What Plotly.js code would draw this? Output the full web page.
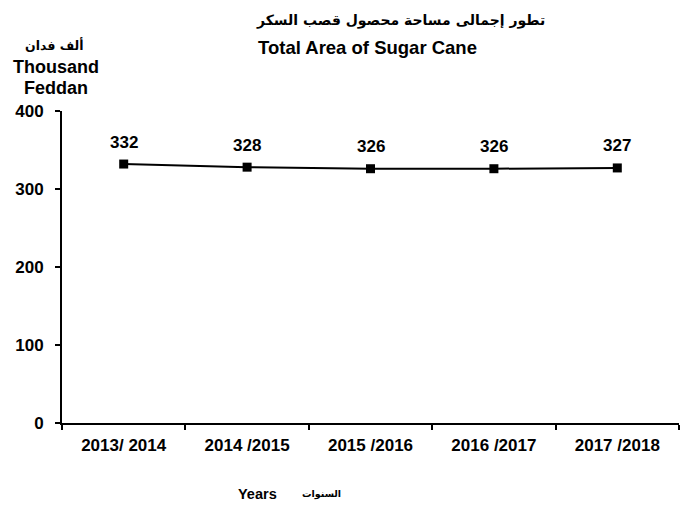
<!DOCTYPE html>
<html><head><meta charset="utf-8">
<script src="https://cdn.plot.ly/plotly-3.0.1.min.js"></script>
<style>body{margin:0;background:#fff}#c{width:692px;height:506px}</style>
</head><body><div id="c"></div>
<script>
const years = ["2013/ 2014", "2014 /2015", "2015 /2016", "2016 /2017", "2017 /2018"];
const area = [332, 328, 326, 326, 327];
const yTicks = [0, 100, 200, 300, 400];

const F = "Arial, 'Liberation Sans', sans-serif";
const FA = "'DejaVu Sans', Arial, sans-serif";
const trace = {
  x: years, y: area, type: "scatter", mode: "lines+markers",
  line: {color: "#000", width: 2},
  marker: {symbol: "square", size: 9, color: "#000"},
  cliponaxis: false, hoverinfo: "none"
};
const labelAnns = years.map((yr, i) => ({
  x: yr, y: area[i], xref: "x", yref: "y", text: String(area[i]),
  showarrow: false, yanchor: "middle", xanchor: "center", yshift: 22,
  font: {family: F, size: 17, weight: "bold", color: "#000"}
}));
const layout = {
  width: 692, height: 506,
  margin: {l: 62, r: 13, t: 111, b: 83},
  paper_bgcolor: "#fff", plot_bgcolor: "#fff",
  showlegend: false,
  font: {family: F, color: "#000", size: 13, weight: "bold"},
  xaxis: {
    type: "category", range: [-0.5, 4.5], tickson: "boundaries",
    ticks: "outside", ticklen: 5, tickwidth: 2, tickcolor: "#000",
    showline: true, linecolor: "#000", linewidth: 2, showgrid: false, zeroline: false,
    ticklabelstandoff: 6,
    tickfont: {family: F, size: 17, weight: "bold"}
  },
  yaxis: {
    range: [0, 400], tickvals: yTicks, ticktext: yTicks.map(String),
    ticks: "outside", ticklen: 5, tickwidth: 2, tickcolor: "#000",
    showline: true, linecolor: "#000", linewidth: 2, showgrid: false, zeroline: false,
    ticklabelstandoff: 8,
    tickfont: {family: F, size: 17, weight: "bold"}
  },
  annotations: [
    {text: "تطور إجمالى مساحة محصول قصب السكر", xref: "paper", yref: "paper", x: 400/692, y: 1, xanchor: "center", yanchor: "middle", yshift: 111-20, showarrow: false, font: {family: FA, size: 14, weight: "bold"}},
    {text: "Total Area of Sugar Cane", xref: "paper", yref: "paper", x: 368/692, y: 1, xanchor: "center", yanchor: "middle", yshift: 111-47, showarrow: false, font: {family: F, size: 18.5, weight: "bold"}},
    {text: "ألف فدان", xref: "paper", yref: "paper", x: 54/692, y: 1, xanchor: "center", yanchor: "middle", yshift: 111-45, showarrow: false, font: {family: FA, size: 12.5, weight: "bold"}},
    {text: "Thousand", xref: "paper", yref: "paper", x: 56/692, y: 1, xanchor: "center", yanchor: "middle", yshift: 111-67, showarrow: false, font: {family: F, size: 18, weight: "bold"}},
    {text: "Feddan", xref: "paper", yref: "paper", x: 56/692, y: 1, xanchor: "center", yanchor: "middle", yshift: 111-88, showarrow: false, font: {family: F, size: 18, weight: "bold"}},
    {text: "Years", xref: "paper", yref: "paper", x: 257/692, y: 0, xanchor: "center", yanchor: "middle", yshift: -(494-423), showarrow: false, font: {family: F, size: 14.5, weight: "bold"}},
    {text: "السنوات", xref: "paper", yref: "paper", x: 321/692, y: 0, xanchor: "center", yanchor: "middle", yshift: -(494-423), showarrow: false, font: {family: FA, size: 9.5, weight: "bold"}}
  ]
};
const pw = 692 - layout.margin.l - layout.margin.r;
layout.annotations.forEach(a => { a.x = (a.x*692 - layout.margin.l) / pw; });
layout.annotations = layout.annotations.concat(labelAnns);
Plotly.newPlot("c", [trace], layout, {staticPlot: true});
</script></body></html>
